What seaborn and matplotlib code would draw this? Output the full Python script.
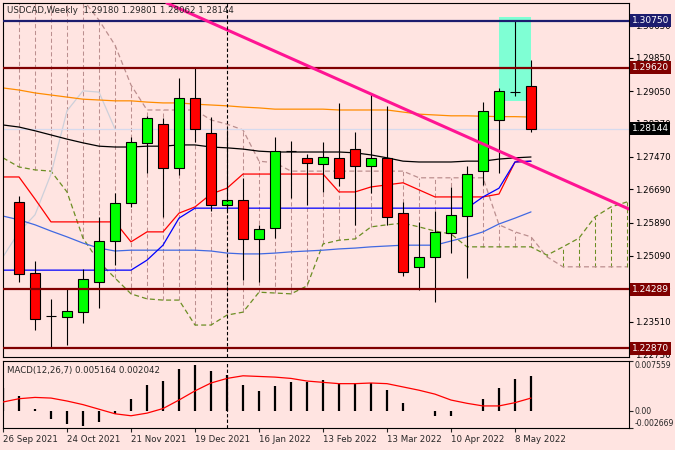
import numpy as np
import pandas as pd
import matplotlib
matplotlib.use("Agg")
import matplotlib.pyplot as plt
import matplotlib.transforms as mtransforms
from matplotlib.patches import Rectangle
import seaborn as sns

# weekly USDCAD candles, 3 Oct 2021 .. 15 May 2022
opens = [1.2639, 1.2468, 1.2364, 1.2362, 1.2374, 1.2447, 1.2545, 1.2636, 1.2781, 1.2826,
         1.2721, 1.2889, 1.2805, 1.2632, 1.2644, 1.2550, 1.2576, 1.2761, 1.2745, 1.2730,
         1.2745, 1.2766, 1.2725, 1.2745, 1.2612, 1.2483, 1.2507, 1.2564, 1.2605, 1.2713,
         1.2836, 1.2903, 1.29180]
highs = [1.2653, 1.2497, 1.2406, 1.2430, 1.2478, 1.2603, 1.2660, 1.2795, 1.2846, 1.2841,
         1.2937, 1.2961, 1.2843, 1.2813, 1.2697, 1.2584, 1.2795, 1.2785, 1.2754, 1.2783,
         1.2877, 1.2807, 1.2901, 1.2870, 1.2640, 1.2591, 1.2617, 1.2675, 1.2725, 1.2879,
         1.2913, 1.3076, 1.29801]
lows = [1.2447, 1.2331, 1.2287, 1.2295, 1.2348, 1.2384, 1.2487, 1.2627, 1.2709, 1.2603,
        1.2704, 1.2783, 1.2617, 1.2620, 1.2451, 1.2447, 1.2552, 1.2648, 1.2632, 1.2663,
        1.2677, 1.2584, 1.2660, 1.2584, 1.2461, 1.2427, 1.2398, 1.2516, 1.2456, 1.2680,
        1.2709, 1.2893, 1.28062]
closes = [1.2466, 1.2358, 1.2364, 1.2377, 1.2454, 1.2545, 1.2636, 1.2783, 1.2841, 1.2721,
          1.2889, 1.2814, 1.2632, 1.2644, 1.2550, 1.2574, 1.2761, 1.2761, 1.2733, 1.2747,
          1.2697, 1.2725, 1.2745, 1.2603, 1.2471, 1.2507, 1.2567, 1.2608, 1.2706, 1.2858,
          1.2906, 1.2903, 1.28144]

# indicator lines, one value per bar starting with the cut-off 26 Sep 2021 bar
ma_orange = [1.2913, 1.2908, 1.2901, 1.2896, 1.2891, 1.2886, 1.2884, 1.2882, 1.2882, 1.2879,
             1.2877, 1.2877, 1.2874, 1.2872, 1.2870, 1.2867, 1.2865, 1.2862, 1.2862, 1.2862,
             1.2862, 1.2860, 1.2860, 1.2860, 1.2860, 1.2855, 1.2850, 1.2848, 1.2846, 1.2846,
             1.2845, 1.2844, 1.2844, 1.2843]
ma_black = [1.2824, 1.2819, 1.2810, 1.2800, 1.2790, 1.2781, 1.2773, 1.2771, 1.2771, 1.2773,
            1.2773, 1.2776, 1.2776, 1.2771, 1.2769, 1.2766, 1.2761, 1.2759, 1.2759, 1.2759,
            1.2759, 1.2759, 1.2757, 1.2752, 1.2745, 1.2737, 1.2735, 1.2735, 1.2735, 1.2737,
            1.2737, 1.2742, 1.2745, 1.2747]
ma_blue = [1.2605, 1.2596, 1.2584, 1.2569, 1.2555, 1.2540, 1.2528, 1.2521, 1.2523, 1.2523,
           1.2523, 1.2523, 1.2523, 1.2521, 1.2516, 1.2514, 1.2514, 1.2516, 1.2519, 1.2521,
           1.2523, 1.2526, 1.2528, 1.2531, 1.2533, 1.2535, 1.2535, 1.2535, 1.2545, 1.2555,
           1.2567, 1.2586, 1.2600, 1.2615]
tenkan = [1.2699, 1.2699, 1.2646, 1.2591, 1.2591, 1.2591, 1.2591, 1.2591, 1.2543, 1.2567,
          1.2567, 1.2612, 1.2627, 1.2658, 1.2672, 1.2706, 1.2706, 1.2706, 1.2706, 1.2706,
          1.2706, 1.2663, 1.2663, 1.2675, 1.2680, 1.2685, 1.2668, 1.2651, 1.2651, 1.2651,
          1.2651, 1.2658, 1.2735, 1.2737]
kijun = [1.2475, 1.2475, 1.2475, 1.2475, 1.2475, 1.2475, 1.2475, 1.2475, 1.2475, 1.2499,
         1.2535, 1.2600, 1.2624, 1.2624, 1.2624, 1.2624, 1.2624, 1.2624, 1.2624, 1.2624,
         1.2624, 1.2624, 1.2624, 1.2624, 1.2624, 1.2624, 1.2624, 1.2624, 1.2624, 1.2624,
         1.2651, 1.2672, 1.2735, 1.2737]

# ichimoku spans, shifted 26 bars forward (run to the right edge)
span_a = [1.2745, 1.2723, 1.2716, 1.2713, 1.2663, 1.2552, 1.2495, 1.2456, 1.2418, 1.2406,
          1.2403, 1.2403, 1.2343, 1.2343, 1.2367, 1.2374, 1.2422, 1.2420, 1.2418, 1.2437,
          1.2538, 1.2547, 1.2550, 1.2579, 1.2584, 1.2588, 1.2579, 1.2569, 1.2562, 1.2531,
          1.2531, 1.2531, 1.2531, 1.2531, 1.2511, 1.2531, 1.2552, 1.2603, 1.2627, 1.2639]
span_b = [1.3150, 1.3150, 1.3150, 1.3150, 1.3150, 1.3125, 1.3076, 1.3016, 1.2920, 1.2860,
          1.2860, 1.2860, 1.2860, 1.2836, 1.2826, 1.2812, 1.2737, 1.2733, 1.2713, 1.2713,
          1.2713, 1.2713, 1.2713, 1.2713, 1.2713, 1.2713, 1.2697, 1.2697, 1.2697, 1.2697,
          1.2697, 1.2584, 1.2567, 1.2555, 1.2507, 1.2483, 1.2483, 1.2483, 1.2483, 1.2483]
chikou_shift = 26

macd_hist = [0.0035, 0.0022, 0.0003, -0.0013, -0.0021, -0.0023, -0.0017, -0.0005, 0.0018, 0.0039,
             0.0045, 0.0063, 0.0069, 0.0060, 0.0054, 0.0039, 0.0030, 0.0037, 0.0044, 0.0043,
             0.0047, 0.0042, 0.0042, 0.0042, 0.0031, 0.0012, -0.0001, -0.0008, -0.0008, -0.0001,
             0.0018, 0.0035, 0.0048, 0.0052]
macd_signal = [0.0013, 0.0018, 0.0020, 0.0019, 0.00145, 0.0009, 0.0002, -0.0005, -0.0008, -0.0004,
               0.0003, 0.0016, 0.0030, 0.0042, 0.0049, 0.0053, 0.0052, 0.0051, 0.0049, 0.0045,
               0.0043, 0.0041, 0.0041, 0.0042, 0.0041, 0.0036, 0.0031, 0.0025, 0.0016, 0.0011,
               0.0007, 0.0007, 0.0012, 0.0019]

# objects drawn on the chart
level_top = 1.30750
level_res = 1.29620
level_sup = [1.24289, 1.22870]
trend_x = [9.25, 38.0]
trend_y = [1.3117, 1.2624]
box_x = [30, 32]
box_y = [1.2882, 1.3084]
vline_bar = 13

date_pos = [-1, 3, 7, 11, 15, 19, 23, 27, 31]
date_labels = ['26 Sep 2021', '24 Oct 2021', '21 Nov 2021', '19 Dec 2021', '16 Jan 2022',
               '13 Feb 2022', '13 Mar 2022', '10 Apr 2022', '8 May 2022']
price_ticks = [1.30630, 1.29850, 1.29050, 1.28270, 1.27470, 1.26690, 1.25890, 1.25090,
               1.24310, 1.23510, 1.22730]
macd_ticks = [-0.002669, 0.0, 0.007559]

BG = '#FFE4E1'
FS = 6.2
sns.set_style('white', rc={'axes.facecolor': BG, 'figure.facecolor': BG,
                           'axes.edgecolor': 'black', 'axes.linewidth': 0.8})
plt.rcParams['font.family'] = ['DejaVu Sans']

opens, highs, lows, closes = map(np.array, (opens, highs, lows, closes))
bars = np.arange(len(opens))
ind_x = np.arange(-1, len(opens))
cloud_x = np.arange(-1, len(span_a) - 1)

fig = plt.figure(figsize=(6.75, 4.5), dpi=100)
ax = fig.add_axes([0.00444, 0.20667, 0.92741, 0.78667])
axm = fig.add_axes([0.00444, 0.04889, 0.92741, 0.14889], sharex=ax)

dash = (0, (4, 2.5))

# cloud hatch and span lines
sa, sb = np.array(span_a), np.array(span_b)
cloud_cols = np.where(sb >= sa, '#BC8F8F', '#6B8E23')
ax.vlines(cloud_x, np.minimum(sa, sb), np.maximum(sa, sb), colors=cloud_cols,
          lw=0.75, linestyles=dash, zorder=1)
sns.lineplot(x=cloud_x, y=span_b, ax=ax, color='#BC8F8F', lw=0.9, linestyle=dash, zorder=1)
sns.lineplot(x=cloud_x, y=span_a, ax=ax, color='#6B8E23', lw=0.9, linestyle=dash, zorder=1)

ax.add_patch(Rectangle((box_x[0], box_y[0]), box_x[1] - box_x[0], box_y[1] - box_y[0],
                       fc='#7FFFD4', ec='none', zorder=1.5))

# chikou span and bid line
ch_x = bars[-8:] - chikou_shift
sns.lineplot(x=ch_x, y=closes[-8:], ax=ax, color='#CDD0DA', lw=0.9, zorder=1.8)
ax.axhline(closes[-1], color='#D6DAEE', lw=0.9, zorder=1.8)

lines = pd.DataFrame({'x': ind_x, 'orange': ma_orange, 'black': ma_black,
                      'blue': ma_blue, 'tenkan': tenkan, 'kijun': kijun})
for col, colr in [('orange', '#FF8C00'), ('black', 'black'), ('blue', '#4169E1'),
                  ('tenkan', '#FF0000'), ('kijun', '#0000FF')]:
    sns.lineplot(data=lines, x='x', y=col, ax=ax, color=colr, lw=0.9,
                 estimator=None, zorder=2)

# candles
body_cols = ['#00FF00' if c > o else ('#FF0000' if c < o else 'black')
             for o, c in zip(opens, closes)]
body_lo = np.minimum(opens, closes)
body_h = np.maximum(np.abs(closes - opens), 0.00006)
ax.vlines(bars, lows, highs, color='black', lw=0.8, zorder=3)
ax.bar(bars, body_h, bottom=body_lo, width=0.62, color=body_cols,
       edgecolor='black', linewidth=0.8, zorder=3.5)

# horizontal levels, trend line, separator
ax.axhline(level_top, color='#1C1C6E', lw=1.6, zorder=5)
ax.axhline(level_res, color='#800000', lw=1.6, zorder=5)
for lv in level_sup:
    ax.axhline(lv, color='#800000', lw=1.6, zorder=5)
ax.axline((trend_x[0], trend_y[0]), (trend_x[1], trend_y[1]), color='#FF1493', lw=2.2, zorder=5)
for a in (ax, axm):
    a.axvline(vline_bar, color='black', lw=0.8, linestyle=(0, (3, 2)), zorder=6)

ax.set_xlim(-1, 38.125)
ax.set_ylim(1.22662, 1.31172)
ax.set_xlabel('')
ax.set_ylabel('')
ax.tick_params(axis='x', bottom=False, labelbottom=False)
ax.yaxis.tick_right()
ax.set_yticks(price_ticks)
ax.set_yticklabels([f'{t:.5f}' for t in price_ticks])
ax.tick_params(axis='y', right=True, length=3, width=0.8, pad=1.5, labelsize=FS, colors='black')

ax.text(0.007, 0.992, 'USDCAD,Weekly  1.29180 1.29801 1.28062 1.28144',
        transform=ax.transAxes, ha='left', va='top', fontsize=FS, zorder=7)

# price label boxes on the right axis
trans = mtransforms.blended_transform_factory(ax.transAxes, ax.transData)
tags = [(level_top, '#1C1C6E'), (level_res, '#800000'), (closes[-1], 'black'),
        (level_sup[0], '#800000'), (level_sup[1], '#800000')]
for val, fc in tags:
    ax.text(1.004, val, f'{val:.5f}', transform=trans, ha='left', va='center',
            color='white', fontsize=FS + 0.3, clip_on=False, zorder=10,
            bbox=dict(boxstyle='square,pad=0.22', fc=fc, ec='none'))

# MACD panel
axm.vlines(ind_x, 0, macd_hist, color='black', lw=1.6, zorder=2)
sns.lineplot(x=ind_x, y=macd_signal, ax=axm, color='#FF0000', lw=0.9, zorder=3)
axm.set_ylim(macd_ticks[0], macd_ticks[-1])
axm.set_xlabel('')
axm.set_ylabel('')
axm.yaxis.tick_right()
axm.set_yticks(macd_ticks)
axm.set_yticklabels(['-0.002669', '0.00', '0.007559'])
axm.tick_params(axis='y', right=True, length=3, width=0.8, pad=1, labelsize=5.6)
ylabs = axm.get_yticklabels()
ylabs[0].set_va('bottom')
ylabs[-1].set_va('top')
axm.set_xticks(date_pos)
axm.set_xticklabels(date_labels)
for lbl in axm.get_xticklabels():
    lbl.set_ha('left')
axm.tick_params(axis='x', bottom=True, length=3, width=0.8, pad=2, labelsize=FS)
axm.text(0.007, 0.93, 'MACD(12,26,7) 0.005164 0.002042', transform=axm.transAxes,
         ha='left', va='top', fontsize=FS)

fig.savefig('out.png', dpi=100, facecolor=BG)
